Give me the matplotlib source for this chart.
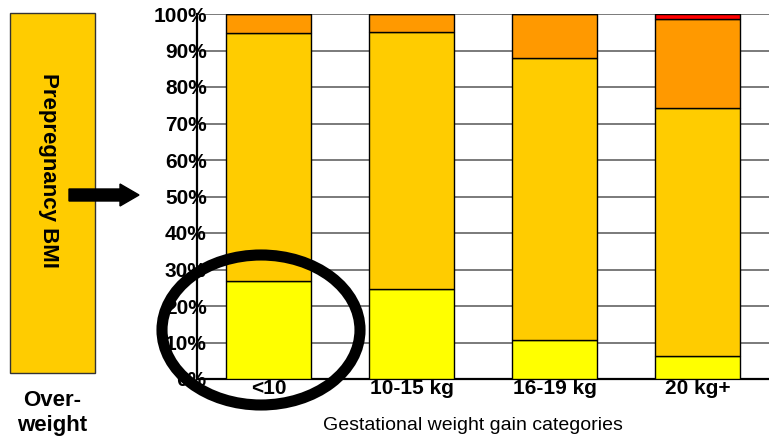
import matplotlib
matplotlib.use("Agg")
import matplotlib.pyplot as plt
import numpy as np
from matplotlib.patches import Ellipse, Rectangle, FancyArrow

plt.rcParams["font.family"] = ["Liberation Sans", "DejaVu Sans"]

categories = ["<10", "10-15 kg", "16-19 kg", "20 kg+"]
yellow_vals = [26.8, 24.7, 10.7, 6.3]
gold_vals   = [68.0, 70.4, 77.2, 67.9]
orange_vals = [5.2, 4.9, 12.1, 24.4]
red_vals    = [0.0, 0.0, 0.0, 1.4]
yticks = [0, 10, 20, 30, 40, 50, 60, 70, 80, 90, 100]

series = [
    (yellow_vals, "#FFFF00"),
    (gold_vals,   "#FFCC00"),
    (orange_vals, "#FF9900"),
    (red_vals,    "#FF0000"),
]

W, H = 769, 438
fig = plt.figure(figsize=(W / 100, H / 100), dpi=100)
fig.patch.set_facecolor("white")

ax = fig.add_axes([197 / W, 1 - 379 / H, 1 - 197 / W, (379 - 14) / H])
x = np.arange(len(categories))
bottom = np.zeros(len(categories))
for vals, col in series:
    v = np.array(vals)
    ax.bar(x, v, width=0.59, bottom=bottom, color=col, edgecolor="black",
           linewidth=1.0, zorder=3)
    bottom += v

ax.set_xlim(-0.5, 3.5)
ax.set_ylim(0, 100)
ax.set_yticks(yticks)
ax.set_yticklabels([f"{t}%" for t in yticks], fontweight="bold", fontsize=15)
ax.tick_params(axis="y", length=0, pad=-7)
ax.set_xticks(x)
ax.set_xticklabels(categories, fontweight="bold", fontsize=15)
ax.tick_params(axis="x", length=0, pad=0)
ax.grid(axis="y", color="#707070", linewidth=1.3, zorder=0)
ax.set_axisbelow(True)
for side in ("top", "right"):
    ax.spines[side].set_visible(False)
ax.spines["left"].set_linewidth(1.6)
ax.spines["bottom"].set_linewidth(1.6)
ax.set_xlabel("Gestational weight gain categories", fontsize=14)
ax.xaxis.set_label_coords((473 - 197) / (W - 197), -(425 - 379) / (379 - 14),
                          transform=ax.transAxes)
ax.xaxis.label.set_va("center")

# overlay in pixel coordinates for annotations
ov = fig.add_axes([0, 0, 1, 1], facecolor="none")
ov.set_xlim(0, W)
ov.set_ylim(H, 0)
ov.axis("off")

ov.add_patch(Rectangle((10, 13), 85, 360, facecolor="#FFCC00",
                       edgecolor="#333333", linewidth=1))
ov.text(48, 170, "Prepregnancy BMI", rotation=-90, ha="center", va="center",
        fontweight="bold", fontsize=16)
ov.text(52, 413, "Over-\nweight", ha="center", va="center",
        fontweight="bold", fontsize=16, linespacing=1.25)

ov.add_patch(FancyArrow(69, 195, 51, 0, width=12, head_width=22,
                        head_length=19, color="black",
                        length_includes_head=False))

ov.add_patch(Ellipse((261, 330), 198, 150, facecolor="none",
                     edgecolor="black", linewidth=8))

fig.savefig("out.png", dpi=100)
